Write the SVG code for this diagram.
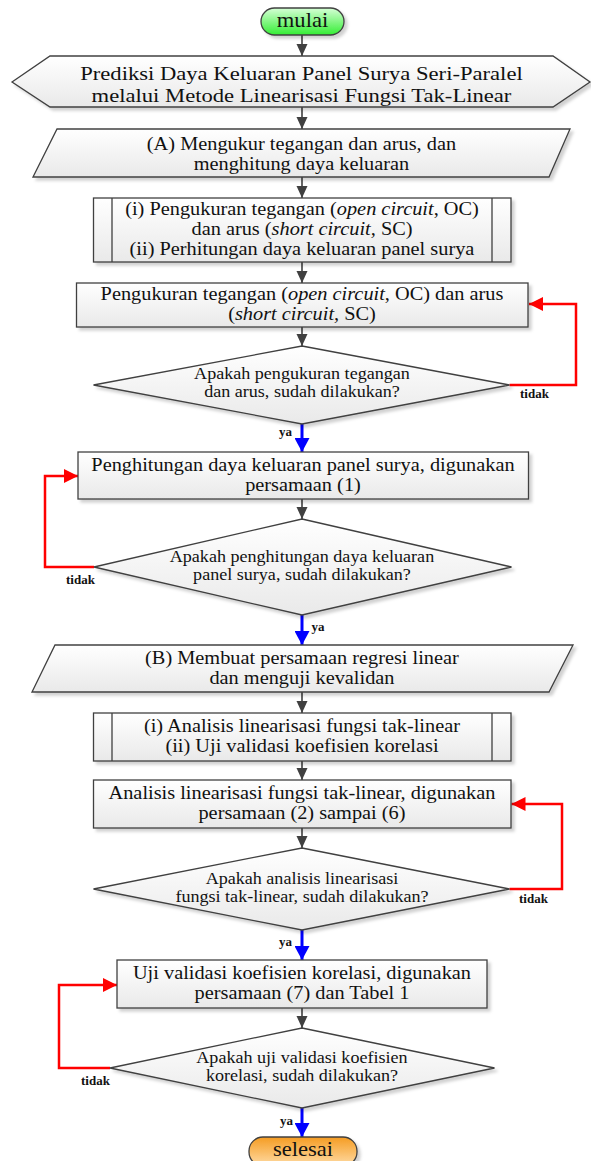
<svg xmlns="http://www.w3.org/2000/svg" width="591" height="1161" viewBox="0 0 591 1161">
<style>
.box{fill:url(#gBox);stroke:#404040;stroke-width:1.3;filter:url(#sh)}
.ln{fill:none;stroke:#404040;stroke-width:1.3}
.c{fill:none;stroke:#404040;stroke-width:1.6}
.cb{fill:none;stroke:#0000ff;stroke-width:3}
.cr{fill:none;stroke:#ff0000;stroke-width:2.5}
text{font-family:"Liberation Serif","Times New Roman",serif;fill:#111;text-anchor:middle;transform-box:fill-box;transform-origin:center;transform:scaleX(1.13)}
.t{font-size:18px}
.d{font-size:16px}
.h{font-size:20px}
.hx{font-size:19px;transform:scaleX(1.19)}
.lb{font-size:11.5px;font-weight:bold}
.i{font-style:italic}
</style>
<defs>
<linearGradient id="gBox" x1="0" y1="0" x2="0" y2="1"><stop offset="0" stop-color="#ffffff"/><stop offset="1" stop-color="#e9e9e9"/></linearGradient>
<linearGradient id="gGreen" x1="0" y1="0" x2="0" y2="1"><stop offset="0" stop-color="#d6ffd6"/><stop offset="1" stop-color="#33ee33"/></linearGradient>
<linearGradient id="gOrange" x1="0" y1="0" x2="0" y2="1"><stop offset="0" stop-color="#f59c22"/><stop offset="1" stop-color="#ffdca6"/></linearGradient>
<filter id="sh" x="-10%" y="-20%" width="130%" height="150%"><feDropShadow dx="3" dy="3" stdDeviation="1.5" flood-color="#000" flood-opacity="0.18"/></filter>
<marker id="ad" markerUnits="userSpaceOnUse" markerWidth="12" markerHeight="12" viewBox="0 0 12 12" refX="12" refY="6" orient="auto"><path d="M0,0.5 L12,6 L0,11.5 z" fill="#404040"/></marker>
<marker id="ab" markerUnits="userSpaceOnUse" markerWidth="14" markerHeight="15" viewBox="0 0 14 15" refX="14" refY="7.5" orient="auto"><path d="M0,0 L14,7.5 L0,15 z" fill="#0000ff"/></marker>
<marker id="ar" markerUnits="userSpaceOnUse" markerWidth="14" markerHeight="14" viewBox="0 0 14 14" refX="14" refY="7" orient="auto"><path d="M0,0 L14,7 L0,14 z" fill="#ff0000"/></marker>
</defs>

<g id="connectors">
<path class="c" d="M302,35 V56" marker-end="url(#ad)"/>
<path class="c" d="M302,107 V129" marker-end="url(#ad)"/>
<path class="c" d="M302,177 V198" marker-end="url(#ad)"/>
<path class="c" d="M302,262 V283" marker-end="url(#ad)"/>
<path class="c" d="M302,327 V346" marker-end="url(#ad)"/>
<path class="cb" d="M302,424 V452" marker-end="url(#ab)"/>
<path class="cr" d="M509.5,385 H576 V304 H529" marker-end="url(#ar)"/>
<path class="c" d="M302,499 V519" marker-end="url(#ad)"/>
<path class="cr" d="M94,567 H45 V476 H78" marker-end="url(#ar)"/>
<path class="cb" d="M302,615 V645" marker-end="url(#ab)"/>
<path class="c" d="M302,692 V713" marker-end="url(#ad)"/>
<path class="c" d="M302,761 V780" marker-end="url(#ad)"/>
<path class="c" d="M302,828 V848" marker-end="url(#ad)"/>
<path class="cr" d="M509.5,889 H562 V804 H511.5" marker-end="url(#ar)"/>
<path class="cb" d="M302,930 V960" marker-end="url(#ab)"/>
<path class="c" d="M302,1008 V1028" marker-end="url(#ad)"/>
<path class="cr" d="M110,1068 H59 V985 H117" marker-end="url(#ar)"/>
<path class="cb" d="M302,1108 V1137" marker-end="url(#ab)"/>
<text class="lb" x="285.5" y="436">ya</text>
<text class="lb" x="534.5" y="398">tidak</text>
<text class="lb" x="80.5" y="584">tidak</text>
<text class="lb" x="318" y="631">ya</text>
<text class="lb" x="533.5" y="903">tidak</text>
<text class="lb" x="285.5" y="946">ya</text>
<text class="lb" x="95.5" y="1085">tidak</text>
<text class="lb" x="286.5" y="1125.5">ya</text>
</g>

<g id="start">
<rect x="261" y="8" width="83" height="27" rx="13.5" fill="url(#gGreen)" stroke="#404040" stroke-width="1.3" filter="url(#sh)"/>
<text class="h" x="302.5" y="27.5">mulai</text>
</g>

<g id="title">
<polygon class="box" points="12,82 50,56 553,56 590,82 553,107 50,107"/>
<text class="hx" x="301.5" y="80.5">Prediksi Daya Keluaran Panel Surya Seri-Paralel</text>
<text class="hx" x="301.5" y="101.7">melalui Metode Linearisasi Fungsi Tak-Linear</text>
</g>

<g id="inputA">
<polygon class="box" points="57,129 570,129 549,177 33,177"/>
<text class="t" x="301.5" y="150.5">(A) Mengukur tegangan dan arus, dan</text>
<text class="t" x="301.5" y="170.5">menghitung daya keluaran</text>
</g>

<g id="sub1">
<rect class="box" x="93.5" y="198" width="417.5" height="64"/>
<path class="ln" d="M112,198 V262 M492,198 V262"/>
<text class="t" x="302" y="215.5">(i) Pengukuran tegangan (<tspan class="i">open circuit</tspan>, OC)</text>
<text class="t" x="302" y="235.5">dan arus (<tspan class="i">short circuit,</tspan> SC)</text>
<text class="t" x="302" y="255.5">(ii) Perhitungan daya keluaran panel surya</text>
</g>

<g id="proc1">
<rect class="box" x="76.5" y="283" width="451.5" height="44"/>
<text class="t" x="302" y="300.5">Pengukuran tegangan (<tspan class="i">open circuit</tspan>, OC) dan arus</text>
<text class="t" x="302" y="320.5">(<tspan class="i">short circuit,</tspan> SC)</text>
</g>

<g id="dec1">
<polygon class="box" points="302,346 509.5,385 302,424 93.5,385"/>
<text class="d" x="302" y="379">Apakah pengukuran tegangan</text>
<text class="d" x="302" y="397.5">dan arus, sudah dilakukan?</text>
</g>

<g id="proc2">
<rect class="box" x="78" y="452" width="450.5" height="47"/>
<text class="t" x="303" y="471">Penghitungan daya keluaran panel surya, digunakan</text>
<text class="t" x="303" y="491">persamaan (1)</text>
</g>

<g id="dec2">
<polygon class="box" points="302,519 511.5,567 302,615 94,567"/>
<text class="d" x="302" y="562">Apakah penghitungan daya keluaran</text>
<text class="d" x="302" y="580.5">panel surya, sudah dilakukan?</text>
</g>

<g id="inputB">
<polygon class="box" points="55,645 573,645 549,692 32,692"/>
<text class="t" x="302" y="664.5">(B) Membuat persamaan regresi linear</text>
<text class="t" x="302" y="684.5">dan menguji kevalidan</text>
</g>

<g id="sub2">
<rect class="box" x="93.5" y="713" width="417.5" height="48"/>
<path class="ln" d="M112,713 V761 M492,713 V761"/>
<text class="t" x="302" y="732">(i) Analisis linearisasi fungsi tak-linear</text>
<text class="t" x="302" y="752">(ii) Uji validasi koefisien korelasi</text>
</g>

<g id="proc3">
<rect class="box" x="93.5" y="780" width="417.5" height="48"/>
<text class="t" x="302" y="799">Analisis linearisasi fungsi tak-linear, digunakan</text>
<text class="t" x="302" y="819">persamaan (2) sampai (6)</text>
</g>

<g id="dec3">
<polygon class="box" points="302,848 509.5,889 302,930 93.5,889"/>
<text class="d" x="302" y="884">Apakah analisis linearisasi</text>
<text class="d" x="302" y="902.5">fungsi tak-linear, sudah dilakukan?</text>
</g>

<g id="proc4">
<rect class="box" x="117" y="960" width="370" height="48"/>
<text class="t" x="302" y="979">Uji validasi koefisien korelasi, digunakan</text>
<text class="t" x="302" y="999.5">persamaan (7) dan Tabel 1</text>
</g>

<g id="dec4">
<polygon class="box" points="302,1028 494.5,1068 302,1108 110,1068"/>
<text class="d" x="302" y="1063">Apakah uji validasi koefisien</text>
<text class="d" x="302" y="1081.5">korelasi, sudah dilakukan?</text>
</g>

<g id="end">
<rect x="249" y="1137" width="108" height="29" rx="14" fill="url(#gOrange)" stroke="#404040" stroke-width="1.3" filter="url(#sh)"/>
<text class="h" x="303" y="1156">selesai</text>
</g>
</svg>
